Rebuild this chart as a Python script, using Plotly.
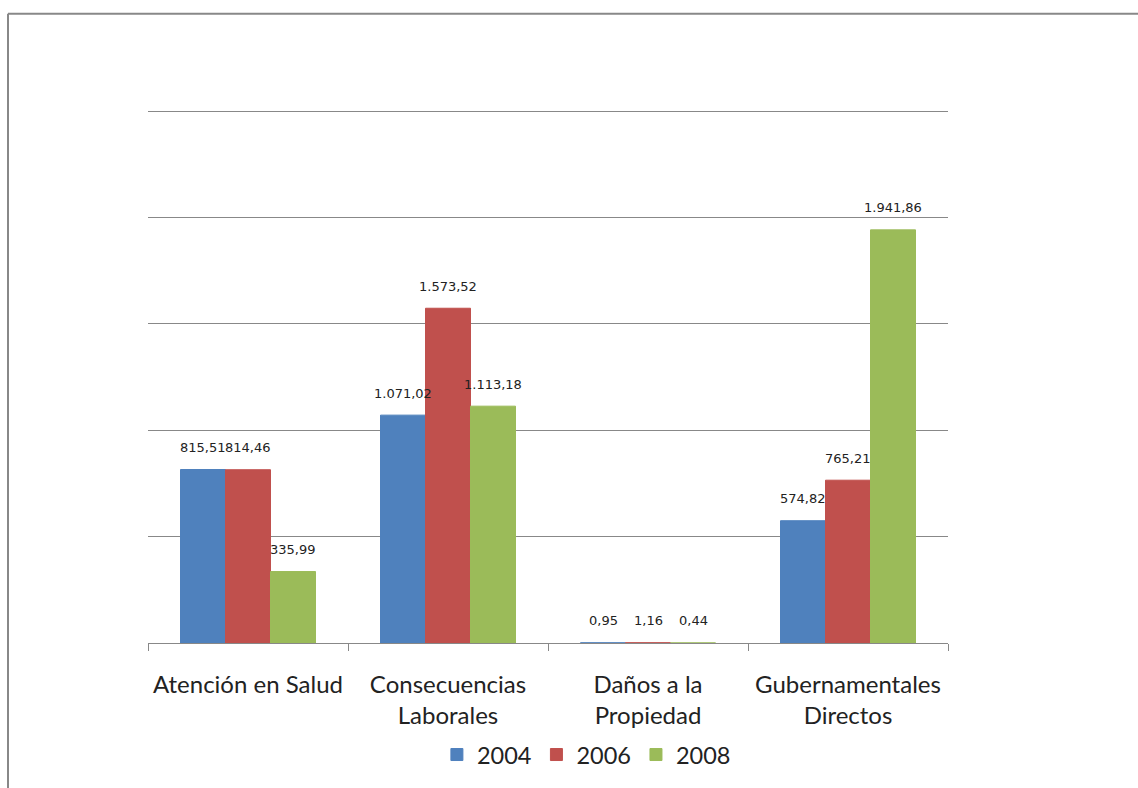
import plotly.graph_objects as go

categories = ["Atención en Salud", "Consecuencias<br>Laborales", "Daños a la<br>Propiedad", "Gubernamentales<br>Directos"]
years = ["2004", "2006", "2008"]
v2004 = [815.51, 1071.02, 0.95, 574.82]
v2006 = [814.46, 1573.52, 1.16, 765.21]
v2008 = [335.99, 1113.18, 0.44, 1941.86]
colors = ["#4F81BD", "#C0504D", "#9BBB59"]
series = [v2004, v2006, v2008]

fig = go.Figure()
for name, vals, col in zip(years, series, colors):
    fig.add_trace(go.Bar(
        x=categories, y=vals, name=name,
        marker=dict(color=col, line=dict(color=col, width=1)),
    ))

def fmt(v):
    s = f"{v:,.2f}"
    return s.replace(",", "X").replace(".", ",").replace("X", ".")

shifts = [-45, 0, 45]
for vals, xs in zip(series, shifts):
    for c, v in zip(categories, vals):
        fig.add_annotation(
            x=c, y=v, text=fmt(v), showarrow=False,
            xshift=xs, yshift=22, yanchor="middle",
            font=dict(family="DejaVu Sans", size=13, color="#222222"),
        )

# frame lines (left and top); plot area spans y 109..644 px
fig.add_shape(type="line", xref="paper", yref="paper",
              x0=-0.175, x1=1.24, y0=1.1785, y1=1.1785,
              line=dict(color="#888888", width=2))
fig.add_shape(type="line", xref="paper", yref="paper",
              x0=-0.175, x1=-0.175, y0=1.1785, y1=-0.3,
              line=dict(color="#888888", width=2))

fig.update_layout(
    width=1138, height=788,
    margin=dict(l=148, r=190, t=109, b=144),
    paper_bgcolor="white", plot_bgcolor="white",
    barmode="group", bargap=0.325, bargroupgap=0,
    showlegend=True,
    legend=dict(orientation="h", x=0.548, xanchor="center", y=-0.207, yanchor="middle",
                font=dict(family="Lato", size=23.5, color="#222222"),
                itemwidth=30, traceorder="normal"),
    font=dict(family="Lato"),
)
fig.update_xaxes(
    showline=True, linecolor="#888888", linewidth=1,
    ticks="outside", ticklen=7, tickcolor="#888888", tickson="boundaries",
    tickfont=dict(family="Lato", size=24, color="#222222"),
    ticklabelstandoff=20,
    showgrid=False,
)
fig.update_yaxes(
    range=[0, 2510], tickvals=[500, 1000, 1500, 2000, 2500], showticklabels=False,
    showgrid=True, gridcolor="#888888", gridwidth=1, zeroline=False,
)
fig.write_html("out.html")
